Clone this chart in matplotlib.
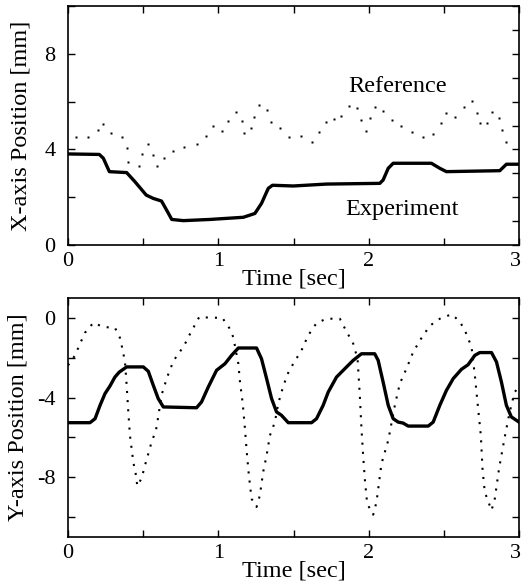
import numpy as np
import matplotlib.pyplot as plt
from matplotlib.transforms import ScaledTranslation

plt.rcParams['font.family'] = ['Liberation Serif', 'DejaVu Serif']
plt.rcParams['font.size'] = 16

# ---- top panel: X-axis position ----
t_x_exp = [0.0, 0.208, 0.235, 0.275, 0.39, 0.445, 0.52, 0.567, 0.622, 0.656, 0.69, 0.767,
           0.944, 1.166, 1.243, 1.287, 1.332, 1.36, 1.498, 1.72, 2.074, 2.096, 2.13, 2.163,
           2.417, 2.473, 2.517, 2.872, 2.916, 3.0]
x_exp = [3.81, 3.79, 3.63, 3.07, 3.03, 2.65, 2.09, 1.95, 1.84, 1.46, 1.07, 1.02,
         1.07, 1.16, 1.32, 1.74, 2.37, 2.50, 2.47, 2.55, 2.58, 2.72, 3.21, 3.42,
         3.42, 3.21, 3.07, 3.11, 3.38, 3.38]

# reference dots (as they appear on the dotted line)
t_x_ref = [0.053, 0.135, 0.202, 0.235, 0.286, 0.357, 0.390, 0.401, 0.472, 0.490, 0.534,
           0.563, 0.589, 0.638, 0.696, 0.771, 0.855, 0.915, 0.962, 1.021, 1.066, 1.117,
           1.154, 1.172, 1.216, 1.239, 1.272, 1.321, 1.347, 1.409, 1.471, 1.547, 1.620,
           1.671, 1.713, 1.770, 1.819, 1.866, 1.919, 1.946, 1.981, 2.008, 2.041, 2.092,
           2.152, 2.218, 2.289, 2.362, 2.429, 2.479, 2.517, 2.577, 2.635, 2.688, 2.721,
           2.739, 2.790, 2.823, 2.867, 2.889, 2.916]
x_ref = [4.53, 4.53, 4.81, 5.06, 4.67, 4.53, 4.04, 3.49, 3.32, 3.81, 4.23,
         3.77, 3.31, 3.65, 3.95, 4.11, 4.21, 4.56, 4.98, 4.77, 5.20, 5.58,
         5.20, 4.70, 4.88, 5.34, 5.86, 5.65, 5.13, 4.88, 4.50, 4.56, 4.30,
         4.71, 5.16, 5.27, 5.40, 5.82, 5.72, 5.23, 4.78, 5.30, 5.79, 5.62,
         5.23, 4.99, 4.71, 4.53, 4.64, 5.12, 5.54, 5.37, 5.79, 6.04, 5.54,
         5.09, 5.09, 5.58, 5.30, 4.81, 4.32]

# ---- bottom panel: Y-axis position ----
t_y_exp = [0.0, 0.146, 0.18, 0.213, 0.246, 0.279, 0.312, 0.341, 0.39, 0.501, 0.534, 0.567,
           0.6, 0.634, 0.855, 0.888, 0.933, 0.988, 1.044, 1.088, 1.133, 1.254, 1.287, 1.321,
           1.354, 1.387, 1.42, 1.465, 1.62, 1.653, 1.697, 1.731, 1.786, 1.853, 1.897, 1.952,
           2.04, 2.063, 2.096, 2.13, 2.163, 2.196, 2.229, 2.263, 2.396, 2.429, 2.473, 2.517,
           2.562, 2.617, 2.661, 2.706, 2.739, 2.817, 2.85, 2.883, 2.916, 2.949, 3.0]
y_exp = [-5.26, -5.26, -5.06, -4.39, -3.80, -3.42, -2.97, -2.72, -2.46, -2.46, -2.68, -3.38,
         -4.05, -4.47, -4.51, -4.22, -3.47, -2.63, -2.30, -1.88, -1.51, -1.51, -2.05, -3.05,
         -4.05, -4.72, -4.89, -5.26, -5.26, -5.06, -4.39, -3.72, -2.97, -2.46, -2.13, -1.80,
         -1.80, -2.13, -3.22, -4.39, -5.06, -5.23, -5.28, -5.43, -5.43, -5.23, -4.39, -3.64,
         -3.05, -2.58, -2.35, -1.88, -1.74, -1.74, -2.21, -3.22, -4.39, -4.97, -5.23]

t_y_ref = [0.0, 0.047, 0.08, 0.113, 0.169, 0.235, 0.312, 0.346, 0.364, 0.379, 0.39, 0.401,
           0.412, 0.423, 0.434, 0.45, 0.461, 0.49, 0.512, 0.534, 0.556, 0.585, 0.6, 0.623,
           0.651, 0.678, 0.711, 0.771, 0.807, 0.873, 0.944, 1.026, 1.073, 1.099, 1.133,
           1.144, 1.161, 1.177, 1.188, 1.203, 1.221, 1.254, 1.276, 1.298, 1.321, 1.343,
           1.376, 1.398, 1.427, 1.458, 1.498, 1.553, 1.598, 1.653, 1.719, 1.808, 1.848,
           1.897, 1.926, 1.941, 1.952, 1.963, 1.974, 1.99, 2.03, 2.052, 2.085, 2.13, 2.174,
           2.207, 2.251, 2.296, 2.362, 2.411, 2.473, 2.551, 2.606, 2.646, 2.684, 2.706,
           2.728, 2.746, 2.757, 2.772, 2.817, 2.839, 2.867, 2.905, 2.938, 2.971, 3.0]
y_ref = [-2.38, -1.88, -1.29, -0.74, -0.24, -0.46, -0.49, -1.01, -1.63, -2.21, -3.38, -4.72,
         -5.9, -6.56, -7.23, -7.82, -8.44, -8.04, -7.4, -6.82, -6.23, -5.64, -4.97, -3.85,
         -3.18, -2.58, -2.05, -1.41, -0.87, 0.05, 0.01, 0.01, -0.51, -0.96, -2.30,
         -3.22, -4.22, -5.56, -6.65, -7.9, -9.08, -9.49, -8.91, -7.74, -6.9, -5.9,
         -5.23, -4.31, -3.55, -2.85, -2.30, -1.63, -0.87, -0.26, -0.04, -0.04, -0.62,
         -1.29, -2.05, -3.89, -5.56, -6.9, -8.07, -9.33, -9.88, -9.24, -7.32, -6.15, -4.39,
         -3.3, -2.55, -1.71, -0.87, -0.37, -0.04, 0.18, -0.17, -0.74, -1.46, -2.88,
         -4.56, -5.9, -7.57, -8.74, -9.66, -9.07, -7.57, -5.98, -4.72, -3.72, -3.47]

LABEL_SIZE = 17.5

fig = plt.figure(figsize=(5.22, 5.88), dpi=100)
ax1 = fig.add_axes([0.1303, 0.5833, 0.864, 0.4065])
ax2 = fig.add_axes([0.1303, 0.0867, 0.864, 0.4065])


def style_axes(ax):
    for s in ax.spines.values():
        s.set_linewidth(1.2)
    ax.set_xlim(0, 3)
    ax.set_xticks([0, 0.5, 1, 1.5, 2, 2.5, 3])
    ax.set_xticklabels(['0', '', '1', '', '2', '', '3'])
    ax.tick_params(which='both', direction='in', length=5, width=1, top=True, right=True)
    ax.tick_params(axis='x', pad=5)
    ax.tick_params(axis='y', pad=9)
    # last label sits against the figure edge, nudge it left
    lbl = ax.get_xticklabels()[-1]
    lbl.set_transform(lbl.get_transform() + ScaledTranslation(-4 / 100, 0, fig.dpi_scale_trans))
    ax.set_xlabel('Time [sec]', fontsize=LABEL_SIZE, labelpad=-2)


ax1.plot(t_x_exp, x_exp, color='black', lw=2.4, solid_joinstyle='round')
ax1.plot(t_x_ref, x_ref, linestyle='none', marker='s', ms=1.7, color='black', mec='none')
ax1.set_ylim(0, 10)
style_axes(ax1)
ax1.set_yticks([0, 2, 4, 6, 8, 10])
ax1.set_yticklabels(['0', '', '4', '', '8', ''])
ax1.set_yticks([1, 3, 5, 7, 9], minor=True)
ax1.tick_params(axis='y', which='minor', left=False, right=True, length=5)
ax1.set_ylabel('X-axis Position [mm]', fontsize=LABEL_SIZE, labelpad=9)
ax1.text(2.195, 6.65, 'Reference', ha='center', va='center', fontsize=LABEL_SIZE)
ax1.text(2.22, 1.49, 'Experiment', ha='center', va='center', fontsize=LABEL_SIZE)

ax2.plot(t_y_exp, y_exp, color='black', lw=2.4, solid_joinstyle='round')
ax2.plot(t_y_ref, y_ref, color='black', lw=1.5, linestyle=(0, (1, 3.4)))
ax2.set_ylim(-11, 1)
style_axes(ax2)
ax2.set_yticks([-10, -8, -6, -4, -2, 0])
ax2.set_yticklabels(['', '-8', '', '-4', '', '0'])
ax2.set_ylabel('Y-axis Position [mm]', fontsize=LABEL_SIZE, labelpad=6)

fig.savefig('out.png', dpi=100)
